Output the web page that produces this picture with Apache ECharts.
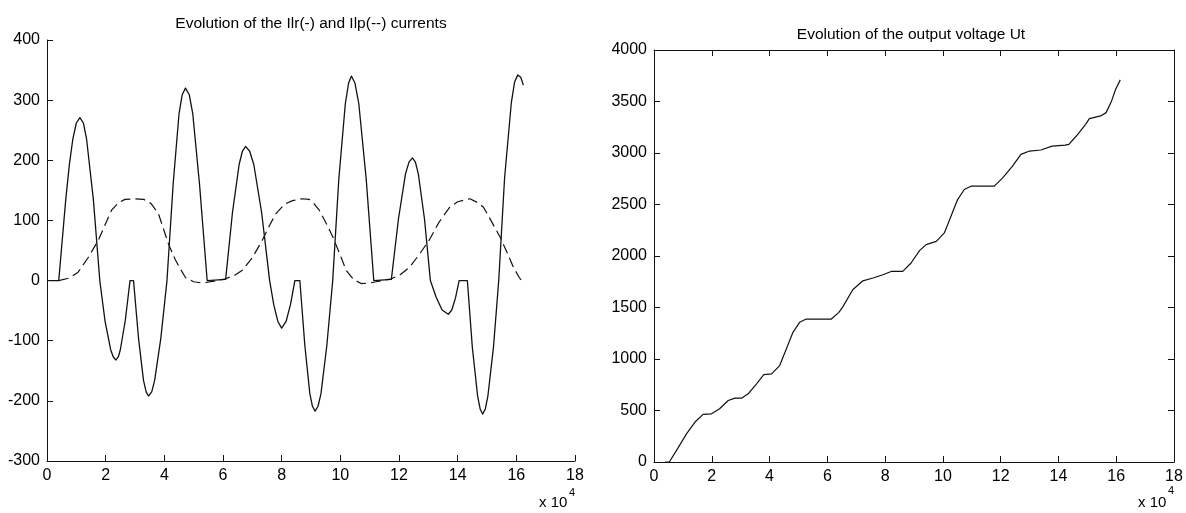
<!DOCTYPE html>
<html>
<head>
<meta charset="utf-8">
<script src="https://cdn.jsdelivr.net/npm/echarts@6/dist/echarts.min.js"></script>
<style>
html,body{margin:0;padding:0;background:#fff;}
#c{width:1186px;height:513px;}
</style>
</head>
<body>
<div id="c"></div>
<script>
// Time axis in units of 1e4
var xTicks = [0, 2, 4, 6, 8, 10, 12, 14, 16, 18];

// Ilr current (solid)
var ilrX = [0.05,0.4,0.64,0.76,0.88,1.0,1.12,1.24,1.35,1.58,1.8,1.98,2.17,2.26,2.35,2.43,2.5,2.67,2.83,2.95,3.12,3.29,3.38,3.46,3.57,3.67,3.88,4.09,4.3,4.5,4.61,4.72,4.85,4.97,5.2,5.46,6.09,6.32,6.55,6.66,6.77,6.91,7.05,7.32,7.59,7.73,7.87,8.0,8.15,8.3,8.45,8.62,8.79,8.96,9.05,9.14,9.24,9.34,9.54,9.74,9.95,10.17,10.28,10.38,10.5,10.63,10.88,11.14,11.74,11.98,12.22,12.34,12.46,12.56,12.66,12.87,13.07,13.27,13.47,13.68,13.8,13.93,14.05,14.33,14.5,14.68,14.77,14.85,14.94,15.03,15.22,15.4,15.6,15.83,15.94,16.05,16.15,16.24];
var ilrY = [0,0,135,192,235,262,271,262,235,135,0,-68,-115,-127,-132,-127,-115,-66,0,0,-96,-166,-185,-192,-185,-166,-96,0,160,277,309,320,309,277,160,0,2,112,193,215,223,215,193,112,0,-40,-68,-79,-68,-40,0,0,-108,-188,-209,-217,-209,-188,-108,0,170,294,328,340,328,294,170,0,2,102,177,197,204,197,177,102,0,-28,-49,-56,-49,-28,0,0,-111,-192,-214,-222,-214,-192,-111,0,171,296,330,342,338,325];

// Ilp current (dashed)
var ilpX = [0.4,0.75,1.06,1.4,1.75,2.0,2.2,2.45,2.66,3.0,3.3,3.55,3.8,4.14,4.37,4.54,4.72,5.0,5.29,5.7,6.09,6.4,6.66,7.0,7.34,7.6,7.8,8.1,8.37,8.7,8.94,9.1,9.28,9.5,9.74,10.0,10.2,10.45,10.71,11.0,11.22,11.74,12.05,12.36,12.7,13.05,13.34,13.45,13.73,14.0,14.42,14.7,14.88,15.1,15.45,15.7,15.9,16.1,16.25];
var ilpY = [0,4,14,38,67,95,117,130,135,136,135,128,111,61,35,20,5,-2,-4,-1,3,9,17,38,67,93,111,127,133,136,135,128,117,97,73,42,17,2,-5,-4,-2,3,10,22,44,69,95,103,122,131,136,129,122,103,72,45,22,5,-4];

// Output voltage Ut
var utX = [0.38,0.53,0.78,1.13,1.42,1.7,1.99,2.27,2.57,2.8,3.03,3.26,3.55,3.8,4.07,4.35,4.58,4.81,5.04,5.27,6.14,6.4,6.54,6.88,7.23,7.58,7.92,8.21,8.61,8.9,9.19,9.42,9.77,10.05,10.28,10.51,10.74,10.97,11.78,12.07,12.41,12.7,13.0,13.39,13.78,14.23,14.36,14.62,14.94,15.07,15.46,15.65,15.84,15.98,16.14];
var utY = [0,0,113,275,388,462,468,517,597,620,620,662,759,849,855,936,1098,1259,1356,1388,1388,1453,1509,1672,1759,1786,1818,1850,1850,1932,2052,2110,2142,2224,2386,2548,2646,2678,2678,2759,2873,2987,3019,3029,3067,3077,3084,3165,3278,3334,3360,3392,3506,3619,3710];

var leftTitle = 'Evolution of the Ilr(-) and Ilp(--) currents';
var rightTitle = 'Evolution of the output voltage Ut';

function zip(a, b) { return a.map(function (v, i) { return [v, b[i]]; }); }

var FONT = '"Liberation Sans", Arial, Helvetica, sans-serif';
var axisCol = '#111';

function baseAxis(opts) {
  var o = {
    type: 'value',
    axisLine: { show: true, onZero: false, lineStyle: { color: axisCol, width: 1 } },
    axisTick: { show: true, inside: true, length: 6, lineStyle: { color: axisCol } },
    axisLabel: { show: true, color: '#000', fontSize: 16, fontFamily: FONT, margin: 7,
      formatter: function (v) { return String(v); } },
    splitLine: { show: false }
  };
  for (var k in opts) o[k] = opts[k];
  return o;
}

var chart = echarts.init(document.getElementById('c'), null, { renderer: 'canvas' });
chart.setOption({
  backgroundColor: '#fff',
  animation: false,
  title: [
    { text: leftTitle, left: 306, top: 11, textAlign: 'center',
      textStyle: { fontSize: 15.5, fontWeight: 'normal', color: '#000', fontFamily: FONT } },
    { text: rightTitle, left: 906, top: 22, textAlign: 'center',
      textStyle: { fontSize: 15.5, fontWeight: 'normal', color: '#000', fontFamily: FONT } }
  ],
  grid: [
    { left: 47, top: 40, width: 528, height: 421 },
    { left: 654, top: 50, width: 520, height: 412 }
  ],
  xAxis: [
    baseAxis({ gridIndex: 0, min: xTicks[0], max: xTicks[xTicks.length - 1], interval: 2, position: 'bottom' }),
    baseAxis({ gridIndex: 1, min: xTicks[0], max: xTicks[xTicks.length - 1], interval: 2, position: 'bottom' }),
    baseAxis({ gridIndex: 1, min: xTicks[0], max: xTicks[xTicks.length - 1], interval: 2, position: 'top', axisLabel: { show: false } })
  ],
  yAxis: [
    baseAxis({ gridIndex: 0, min: -300, max: 400, interval: 100, position: 'left' }),
    baseAxis({ gridIndex: 1, min: 0, max: 4000, interval: 500, position: 'left' }),
    baseAxis({ gridIndex: 1, min: 0, max: 4000, interval: 500, position: 'right', axisLabel: { show: false } })
  ],
  series: [
    { type: 'line', xAxisIndex: 0, yAxisIndex: 0, data: zip(ilrX, ilrY), showSymbol: false,
      lineStyle: { color: '#111', width: 1.3, join: 'round' } },
    { type: 'line', xAxisIndex: 0, yAxisIndex: 0, data: zip(ilpX, ilpY), showSymbol: false,
      lineStyle: { color: '#111', width: 1.2, type: [10, 5] } },
    { type: 'line', xAxisIndex: 1, yAxisIndex: 1, data: zip(utX, utY), showSymbol: false,
      lineStyle: { color: '#111', width: 1.2, join: 'round' } }
  ],
  graphic: [
    { type: 'text', x: 539, y: 495, style: { text: 'x 10', font: '15px ' + FONT, fill: '#000' } },
    { type: 'text', x: 569, y: 487, style: { text: '4', font: '11px ' + FONT, fill: '#000' } },
    { type: 'text', x: 1138, y: 495, style: { text: 'x 10', font: '15px ' + FONT, fill: '#000' } },
    { type: 'text', x: 1168, y: 485, style: { text: '4', font: '11px ' + FONT, fill: '#000' } }
  ]
});
</script>
</body>
</html>
